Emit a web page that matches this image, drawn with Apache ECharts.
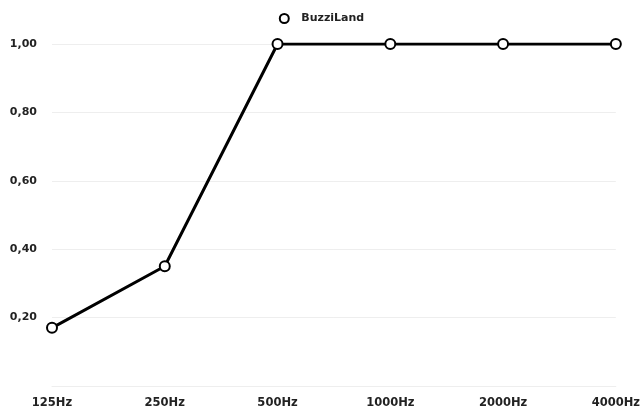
<!DOCTYPE html>
<html><head><meta charset="utf-8">
<script src="https://cdn.jsdelivr.net/npm/echarts@6/dist/echarts.min.js"></script>
<style>html,body{margin:0;padding:0;background:#fff}#c{width:643px;height:410px}</style>
</head><body><div id="c"></div>
<script>
const categories = ['125Hz','250Hz','500Hz','1000Hz','2000Hz','4000Hz'];
const seriesName = 'BuzziLand';
const values = [0.17, 0.35, 1.0, 1.0, 1.0, 1.0];

const chart = echarts.init(document.getElementById('c'));
chart.setOption({
  animation: false,
  textStyle: {fontFamily: 'DejaVu Sans'},
  legend: {top: 8, left: 'center', itemWidth: 24, itemHeight: 9, itemGap: 6,
    textStyle: {fontSize: 11, fontWeight: 'bold', color: '#222'}, data: [{name: seriesName, icon: 'emptyCircle'}]},
  grid: {left: 52, right: 27, top: 44, bottom: 24, containLabel: false},
  xAxis: {type: 'category', data: categories, boundaryGap: false,
    axisLine: {show: true, lineStyle: {color: '#eeeeee'}}, axisTick: {show: false},
    axisLabel: {color: '#222', fontSize: 11.5, fontWeight: 'bold', margin: 11}},
  yAxis: {type: 'value', min: 0, max: 1, interval: 0.2,
    axisLine: {show: false}, axisTick: {show: false},
    splitLine: {lineStyle: {color: '#eeeeee'}},
    axisLabel: {color: '#222', fontSize: 11, fontWeight: 'bold', margin: 15,
      formatter: v => v === 0 ? '' : v.toFixed(2).replace('.', ',')}},
  series: [{name: seriesName, type: 'line', data: values, symbol: 'emptyCircle', symbolSize: 10,
    lineStyle: {color: '#000', width: 3}, itemStyle: {color: '#000', borderWidth: 2.5, borderColor: '#000'}}]
});
</script></body></html>
